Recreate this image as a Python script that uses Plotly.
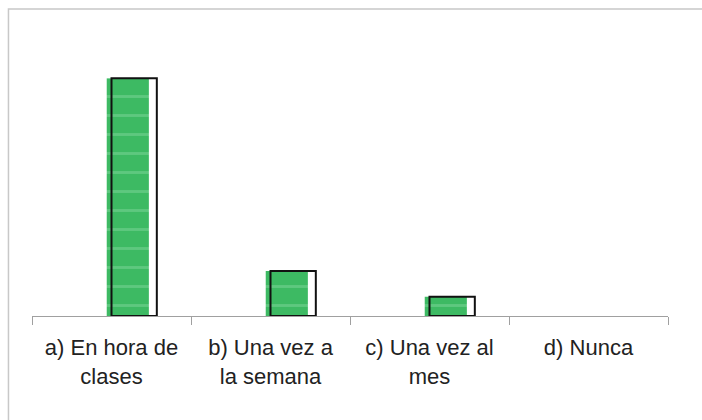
import plotly.graph_objs as go

categories = [
    "a) En hora de<br>clases",
    "b) Una vez a<br>la semana",
    "c) Una vez al<br>mes",
    "d) Nunca",
]
values = [37, 7, 3, 0]

green = "#3dba63"
stripe = "#7fd69b"
config = {"displayModeBar": False}

# white backing (shows as the light strip on the right of each bar)
backing = go.Bar(
    x=categories, y=values, width=0.285, offset=0,
    marker=dict(color="white", line=dict(width=0)),
    hoverinfo="skip", showlegend=False,
)
fill = go.Bar(
    x=categories, y=values, width=0.265, offset=-0.03,
    marker=dict(
        color=green,
        line=dict(width=0),
        pattern=dict(shape="-", fgcolor=stripe, bgcolor=green, size=19, solidity=0.15),
    ),
    showlegend=False,
)
outline = go.Bar(
    x=categories, y=values, width=0.285, offset=0,
    marker=dict(
        color="rgba(0,0,0,0)",
        line=dict(color="#111111", width=[2 if v > 0 else 0 for v in values]),
    ),
    hoverinfo="skip", showlegend=False,
)

layout = go.Layout(
    width=702, height=420,
    barmode="overlay",
    margin=dict(l=32, r=34, t=30, b=104),
    paper_bgcolor="white",
    plot_bgcolor="white",
    font=dict(family="Liberation Sans, Arial, sans-serif", size=22, color="#222222"),
    xaxis=dict(
        showline=True, linecolor="#a0a0a0", linewidth=1,
        ticks="outside", tickson="boundaries", ticklen=8, tickcolor="#a0a0a0",
        showgrid=False, tickfont=dict(size=22), ticklabelstandoff=12,
    ),
    yaxis=dict(visible=False, range=[0, 44.5], showgrid=False),
    shapes=[
        dict(type="rect", xref="paper", yref="paper",
             x0=-0.037, y0=-0.6, x1=1.1, y1=1.073,
             line=dict(color="#c8c8c8", width=1.5)),
    ],
)

fig = go.Figure(data=[backing, fill, outline], layout=layout)
fig.write_html("out.html", config=config, post_script="document.body.style.margin='0';")
